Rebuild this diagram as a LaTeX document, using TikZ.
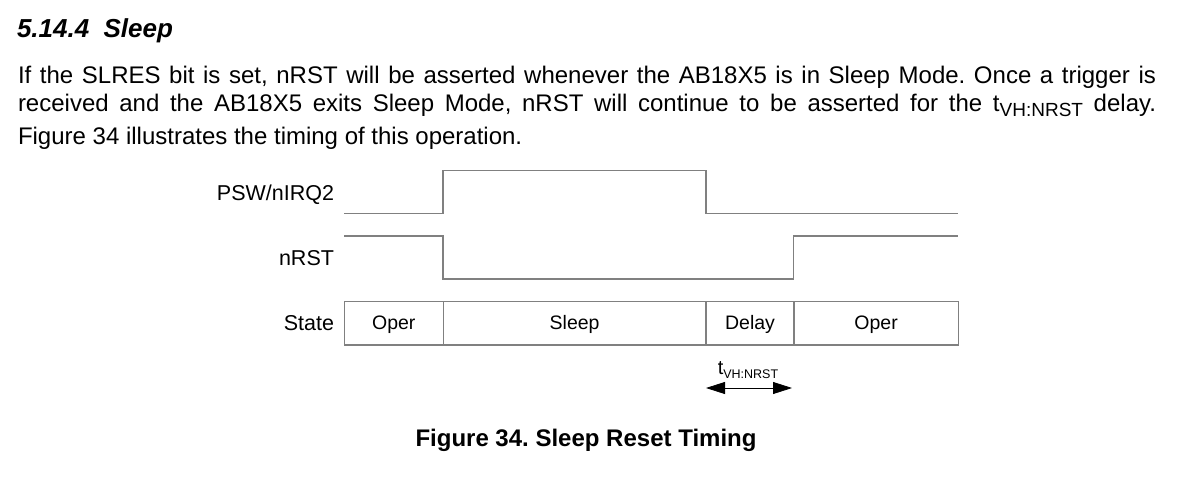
\documentclass[tikz,border=0pt]{standalone}
\usepackage{fontspec}
\setmainfont{Liberation Sans}
\usetikzlibrary{arrows.meta}
\definecolor{wave}{RGB}{128,128,128}
\frenchspacing
\begin{document}
\begin{tikzpicture}[x=1pt,y=-1pt,
  txt/.style={inner sep=0pt,outer sep=0pt},
  sig/.style={draw=wave,line width=1.3pt},
  cell/.style={draw=wave,line width=1.3pt,inner sep=0pt,outer sep=0pt,minimum height=43.3pt,text height=14pt,text depth=2pt,font=\fontsize{19.5}{22}\selectfont},
  lbl/.style={txt,anchor=base east,font=\fontsize{21.5}{24}\selectfont},
  para/.style={txt,anchor=base west,font=\fontsize{24}{28}\selectfont}]
\useasboundingbox (0,0) rectangle (1200,490);
\fill[white] (0,0) rectangle (1200,490);
% heading and paragraph
\node[txt,anchor=base west,font=\fontsize{26}{30}\selectfont\bfseries\itshape] (head) at (17,37.5) {5.14.4\hspace{0.55em}Sleep};
\node[para] (l1) at (18,83) {\makebox[1138pt][s]{If the SLRES bit is set, nRST will be asserted whenever the AB18X5 is in Sleep Mode. Once a trigger is}};
\node[para] (l2) at (18,111.5) {\makebox[1138pt][s]{received and the AB18X5 exits Sleep Mode, nRST will continue to be asserted for the t\raisebox{-5pt}{\fontsize{19}{19}\selectfont VH:NRST} delay.}};
\node[para] (l3) at (18,144) {Figure 34 illustrates the timing of this operation.};
% signal labels
\node[lbl] (psw) at (334,200) {PSW/nIRQ2};
\node[lbl] (nrst) at (334,265.5) {nRST};
\node[lbl] (state) at (334,330.5) {State};
% PSW/nIRQ2 waveform
\coordinate (p0) at (344.3,213.3);
\coordinate (p1) at (443,213.3);
\coordinate (p2) at (443,170.3);
\coordinate (p3) at (706,170.3);
\coordinate (p4) at (706,213.3);
\coordinate (p5) at (958.3,213.3);
\draw[sig] (p0) -- (p1) -- (p2) -- (p3) -- (p4) -- (p5);
% nRST waveform
\coordinate (r0) at (344.3,236);
\coordinate (r1) at (443,236);
\coordinate (r2) at (443,279);
\coordinate (r3) at (793.7,279);
\coordinate (r4) at (793.7,236);
\coordinate (r5) at (958.3,236);
\draw[sig] (r0) -- (r1) -- (r2) -- (r3) -- (r4) -- (r5);
% state row
\node[cell,minimum width=99pt] (c1) at (393.8,323.3) {Oper};
\node[cell,minimum width=262.7pt] (c2) at (574.65,323.3) {Sleep};
\node[cell,minimum width=88pt] (c3) at (750,323.3) {Delay};
\node[cell,minimum width=164.3pt] (c4) at (876.15,323.3) {Oper};
% delay arrow
\coordinate (a1) at (706,388);
\coordinate (a2) at (792,388);
\draw[line width=0.8pt,{Triangle[length=19pt,width=12pt]}-{Triangle[length=19pt,width=12pt]}] (a1) -- (a2);
\node[txt,anchor=base,font=\fontsize{20}{22}\selectfont] (tv) at (748,374) {t\raisebox{-4pt}{\fontsize{12.5}{14}\selectfont VH:NRST}};
% caption
\node[txt,anchor=base,font=\fontsize{24}{28}\selectfont\bfseries] (cap) at (586,446.5) {Figure 34. Sleep Reset Timing};
\end{tikzpicture}
\end{document}
